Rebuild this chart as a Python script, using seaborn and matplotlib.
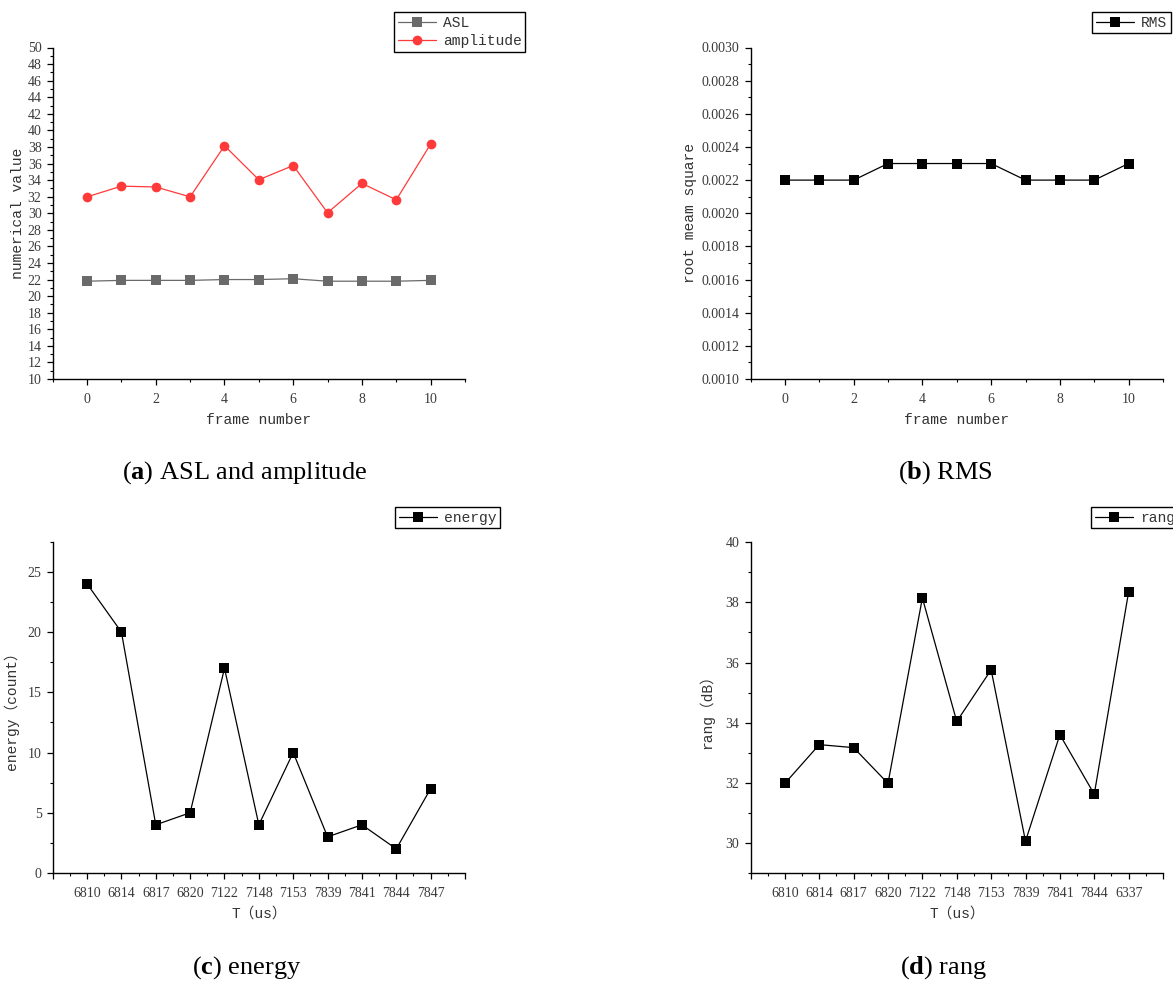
import matplotlib
matplotlib.use('Agg')
import matplotlib.pyplot as plt
import matplotlib.ticker as mticker
import seaborn as sns
import numpy as np
import pandas as pd

# data
frames = list(range(11))
asl = [21.8, 21.9, 21.9, 21.9, 22.0, 22.0, 22.1, 21.8, 21.8, 21.8, 21.9]
amplitude = [31.98, 33.27, 33.17, 31.98, 38.15, 34.04, 35.76, 30.06, 33.6, 31.62, 38.35]
rms = [0.0022, 0.0022, 0.0022, 0.0023, 0.0023, 0.0023, 0.0023, 0.0022, 0.0022, 0.0022, 0.0023]
energy = [24, 20, 4, 5, 17, 4, 10, 3, 4, 2, 7]
rang = [31.98, 33.27, 33.17, 31.98, 38.15, 34.04, 35.76, 30.06, 33.6, 31.62, 38.35]
t_energy = ['6810', '6814', '6817', '6820', '7122', '7148', '7153', '7839', '7841', '7844', '7847']
t_rang = ['6810', '6814', '6817', '6820', '7122', '7148', '7153', '7839', '7841', '7844', '6337']

sns.set_style('ticks')
# ticks in a serif face, labels / legends in a mono face (SimSun-like look)
plt.rcParams['font.family'] = ['Liberation Serif', 'Noto Sans CJK SC']
plt.rcParams['mathtext.fontset'] = 'custom'
plt.rcParams['mathtext.rm'] = 'Liberation Serif'
plt.rcParams['mathtext.bf'] = 'Liberation Serif:bold'
MONO = ['Liberation Mono', 'Noto Sans CJK SC']

W, H = 1173, 982
fig = plt.figure(figsize=(W / 100, H / 100), dpi=100)


def px_axes(x0, y0, x1, y1):
    return fig.add_axes([x0 / W, 1 - y1 / H, (x1 - x0) / W, (y1 - y0) / H])


def style_axes(ax, xlabel, ylabel, ypad):
    sns.despine(ax=ax)
    for s in ['left', 'bottom']:
        ax.spines[s].set_linewidth(1.0)
        ax.spines[s].set_color('black')
    ax.tick_params(which='major', direction='out', length=4, width=0.9, pad=4,
                   labelsize=10, labelcolor='#3a3a3a', color='black')
    ax.tick_params(axis='x', which='major', pad=6)
    ax.tick_params(which='minor', direction='out', length=2.2, width=0.8, color='black')
    ax.set_xlabel(xlabel, fontfamily=MONO, fontsize=10.5, color='#333333', labelpad=5)
    ax.set_ylabel(ylabel, fontfamily=MONO, fontsize=10.5, color='#333333', labelpad=ypad)


def add_legend(ax, x, y):
    leg = ax.legend(loc='upper left', bbox_to_anchor=(x / W, 1 - y / H),
                    bbox_transform=fig.transFigure, borderaxespad=0,
                    fancybox=False, framealpha=1, edgecolor='black',
                    prop={'family': MONO, 'size': 10.5},
                    handlelength=2.6, handletextpad=0.5,
                    borderpad=0.25, labelspacing=0.3)
    leg.get_frame().set_linewidth(1.0)
    for t in leg.get_texts():
        t.set_color('#333333')


ms = 6.5
lw = 0.9

# (a) ASL and amplitude
ax1 = px_axes(52.7, 47.5, 465, 379)
sns.lineplot(x=frames, y=asl, ax=ax1, color='#6a6a6a', marker='s', markersize=ms,
             markeredgewidth=0, linewidth=lw, label='ASL')
sns.lineplot(x=frames, y=amplitude, ax=ax1, color='#ff3a3a', marker='o', markersize=ms + 0.5,
             markeredgewidth=0, linewidth=lw, label='amplitude')
ax1.set_xlim(-1, 11)
ax1.set_ylim(10, 50)
ax1.xaxis.set_major_locator(mticker.MultipleLocator(2))
ax1.xaxis.set_minor_locator(mticker.MultipleLocator(1))
ax1.yaxis.set_major_locator(mticker.MultipleLocator(2))
ax1.yaxis.set_minor_locator(mticker.MultipleLocator(1))
style_axes(ax1, 'frame number', 'numerical value', 2)
add_legend(ax1, 394, 12)

# (b) RMS
ax2 = px_axes(750.5, 47.5, 1163, 379)
sns.lineplot(x=frames, y=rms, ax=ax2, color='black', marker='s', markersize=ms,
             markeredgewidth=0, linewidth=lw, label='RMS')
ax2.set_xlim(-1, 11)
ax2.set_ylim(0.001, 0.003)
ax2.xaxis.set_major_locator(mticker.MultipleLocator(2))
ax2.xaxis.set_minor_locator(mticker.MultipleLocator(1))
ax2.yaxis.set_major_locator(mticker.MultipleLocator(0.0002))
ax2.yaxis.set_minor_locator(mticker.MultipleLocator(0.0001))
ax2.yaxis.set_major_formatter(mticker.FormatStrFormatter('%.4f'))
style_axes(ax2, 'frame number', 'root meam square', 3)
add_legend(ax2, 1092, 12)

# (c) energy
pos = np.arange(len(t_energy))
ax3 = px_axes(52.7, 541.7, 465, 873)
sns.lineplot(x=pos, y=energy, ax=ax3, color='black', marker='s', markersize=ms,
             markeredgewidth=0, linewidth=lw, label='energy')
ax3.set_xlim(-1, len(t_energy))
ax3.set_ylim(0, 27.5)
ax3.set_xticks(np.arange(-1, len(t_energy) + 1))
ax3.set_xticklabels([''] + t_energy + [''])
ax3.xaxis.set_minor_locator(mticker.MultipleLocator(0.5))
ax3.yaxis.set_major_locator(mticker.MultipleLocator(5))
ax3.yaxis.set_minor_locator(mticker.MultipleLocator(2.5))
style_axes(ax3, 'T（us）', 'energy（count）', 6)
add_legend(ax3, 395, 507)

# (d) rang
pos = np.arange(len(t_rang))
ax4 = px_axes(750.5, 542.3, 1163, 873)
sns.lineplot(x=pos, y=rang, ax=ax4, color='black', marker='s', markersize=ms,
             markeredgewidth=0, linewidth=lw, label='rang')
ax4.set_xlim(-1, len(t_rang))
ax4.set_ylim(29, 40)
ax4.set_xticks(np.arange(-1, len(t_rang) + 1))
ax4.set_xticklabels([''] + t_rang + [''])
ax4.xaxis.set_minor_locator(mticker.MultipleLocator(0.5))
ax4.yaxis.set_major_locator(mticker.MultipleLocator(2))
ax4.yaxis.set_minor_locator(mticker.MultipleLocator(1))
style_axes(ax4, 'T（us）', 'rang（dB）', 8)
add_legend(ax4, 1091, 507)

# captions
cap = dict(ha='center', va='center', fontsize=19, family='Liberation Serif', color='black')
fig.text(245 / W, 1 - 473 / H, r'($\mathbf{a}$) ASL and amplitude', **cap)
fig.text(945 / W, 1 - 473 / H, r'($\mathbf{b}$) RMS', **cap)
fig.text(247 / W, 1 - 968 / H, r'($\mathbf{c}$) energy', **cap)
fig.text(944 / W, 1 - 968 / H, r'($\mathbf{d}$) rang', **cap)

fig.savefig('out.png', dpi=100, facecolor='white')
plt.close(fig)
